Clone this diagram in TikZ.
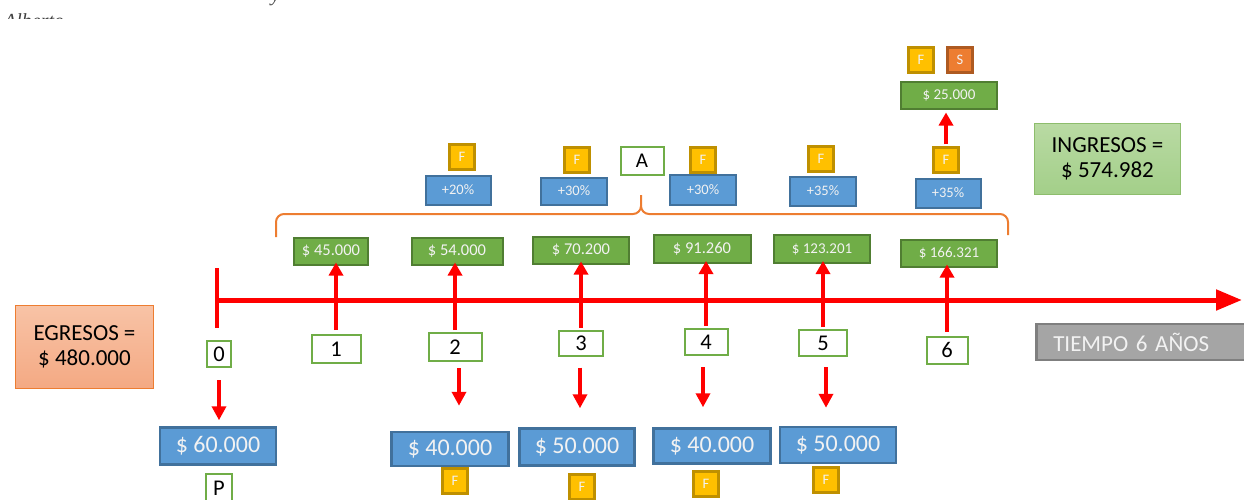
\documentclass[tikz,border=0pt]{standalone}
\usepackage{fontspec}
\setmainfont{Carlito}
\newfontfamily\noteserif{Liberation Serif}
\usetikzlibrary{arrows.meta}

\definecolor{incfill}{HTML}{70AD47}
\definecolor{incline}{HTML}{507E32}
\definecolor{bluefill}{HTML}{5B9BD5}
\definecolor{blueline}{HTML}{41719C}
\definecolor{ffill}{HTML}{FFC000}
\definecolor{fline}{HTML}{BF9000}
\definecolor{sfill}{HTML}{ED7D31}
\definecolor{sline}{HTML}{AE5A21}
\definecolor{tred}{HTML}{FF0000}
\definecolor{ingtop}{HTML}{B9DAA3}
\definecolor{ingbot}{HTML}{A3CF89}
\definecolor{egrtop}{HTML}{F8C3A6}
\definecolor{egrbot}{HTML}{F4A983}
\definecolor{grayfill}{HTML}{A5A5A5}
\definecolor{grayline}{HTML}{7F7F7F}
\definecolor{softwhite}{HTML}{F2F2F2}

\newcommand{\fs}[1]{\fontsize{#1}{#1}\selectfont}

\tikzset{
  x=1pt, y=1pt,
  box/.style={inner sep=0pt, line width=2pt, align=center},
  inc/.style={box, fill=incfill, draw=incline, text=softwhite},
  pct/.style={box, fill=bluefill, draw=blueline, text=softwhite, font=\fs{14.5}},
  cost/.style={box, fill=bluefill, draw=blueline, text=softwhite, font=\fs{24}, line width=2.5pt},
  tag/.style={box, fill=ffill, draw=fline, text=softwhite, minimum width=25pt, minimum height=25pt, font=\fs{14.5}, line width=2.2pt},
  yr/.style={box, fill=white, draw=incfill, font=\fs{22.5}},
  upar/.style={draw=tred, line width=4pt, -{Triangle[width=14pt,length=13pt]}},
  dnar/.style={draw=tred, line width=4pt, -{Triangle[width=14pt,length=14pt]}},
  brace line/.style={draw=sfill, line width=2pt},
}

\begin{document}
\begin{tikzpicture}
\useasboundingbox (0,0) rectangle (1244,-499);
\clip (0,0) rectangle (1244,-499);

% note lines cut at the top of the sheet
\begin{scope}
  \clip (0,0) rectangle (300,-18);
  \node[anchor=base west, inner sep=0pt, font=\noteserif\itshape\fs{20}, text=black!75] (autor) at (4,-27) {Alberto};
  \node[anchor=base west, inner sep=0pt, font=\noteserif\itshape\fs{20}, text=black!75] (nota) at (271,-1) {y};
\end{scope}

% totals
\node[box, line width=1.2pt, draw=incfill!80, top color=ingtop, bottom color=ingbot,
      minimum width=146pt, minimum height=71pt, font=\fs{23}]
  (ing) at (1107.5,-159) {INGRESOS =\\[2pt]\$ 574.982};
\node[box, line width=1.2pt, draw=sfill, top color=egrtop, bottom color=egrbot,
      minimum width=138pt, minimum height=83pt, font=\fs{23}]
  (egr) at (84.5,-347) {EGRESOS =\\[2pt]\$ 480.000};
\node[box, line width=2.5pt, fill=grayfill, draw=grayline, text=softwhite,
      anchor=west, text width=175pt, inner xsep=17pt, minimum height=36pt,
      align=left, font=\fs{23}]
  (tiempo) at (1035,-342) {TIEMPO 6 AÑOS};

% time axis
\coordinate (ax0) at (215,-300);
\coordinate (ax1) at (1242,-300);
\coordinate (tk0) at (217,-268);
\coordinate (tk1) at (217,-328);
\draw[draw=tred, line width=5pt, -{Triangle[width=20pt,length=26pt]}] (ax0) -- (ax1);
\draw[draw=tred, line width=4.5pt] (tk0) -- (tk1);

% periods
\node[yr, minimum width=24pt, minimum height=26pt] (y0) at (219,-354) {0};
\node[yr, minimum width=49pt, minimum height=28pt] (y1) at (336,-349) {1};
\node[yr, minimum width=53pt, minimum height=28pt] (y2) at (455,-347) {2};
\node[yr, minimum width=44pt, minimum height=25pt] (y3) at (581,-343) {3};
\node[yr, minimum width=43pt, minimum height=26pt] (y4) at (706,-342) {4};
\node[yr, minimum width=48pt, minimum height=26pt] (y5) at (823,-343) {5};
\node[yr, minimum width=41pt, minimum height=27pt] (y6) at (947,-350) {6};

% income per period
\node[inc, minimum width=74pt, minimum height=27pt, font=\fs{16.5}] (g1) at (331,-251) {\$ 45.000};
\node[inc, minimum width=91pt, minimum height=27pt, font=\fs{16.5}] (g2) at (457,-251) {\$ 54.000};
\node[inc, minimum width=96pt, minimum height=27pt, font=\fs{16.5}] (g3) at (581,-250) {\$ 70.200};
\node[inc, minimum width=97pt, minimum height=28pt, font=\fs{16.5}] (g4) at (702,-249) {\$ 91.260};
\node[inc, minimum width=96pt, minimum height=28pt, font=\fs{15}] (g5) at (822,-249) {\$ 123.201};
\node[inc, minimum width=96pt, minimum height=27pt, font=\fs{15}] (g6) at (949,-253) {\$ 166.321};
\node[inc, minimum width=96pt, minimum height=27pt, font=\fs{15}] (g7) at (949,-95) {\$ 25.000};

% growth rates
\node[pct, minimum width=65pt, minimum height=29pt] (p1) at (458,-190) {+20\%};
\node[pct, minimum width=66pt, minimum height=27pt] (p2) at (574,-191) {+30\%};
\node[pct, minimum width=66pt, minimum height=30pt] (p3) at (703,-190) {+30\%};
\node[pct, minimum width=66pt, minimum height=29pt] (p4) at (823,-191) {+35\%};
\node[pct, minimum width=65pt, minimum height=29pt] (p5) at (948,-193) {+35\%};

% markers
\node[tag] (f1) at (462,-157) {F};
\node[tag] (f2) at (577,-160) {F};
\node[tag] (f3) at (703,-160) {F};
\node[tag] (f4) at (821,-159) {F};
\node[tag] (f5) at (946,-160) {F};
\node[tag] (f6) at (921,-60) {F};
\node[tag, fill=sfill, draw=sline] (s1) at (960,-60) {S};
\node[yr, minimum width=43pt, minimum height=28pt, font=\fs{21}] (aa) at (642,-161) {A};

% costs
\node[cost, minimum width=116pt, minimum height=37pt] (b0) at (218,-446) {\$ 60.000};
\node[cost, minimum width=117pt, minimum height=34pt] (b2) at (450,-449) {\$ 40.000};
\node[cost, minimum width=115pt, minimum height=37pt] (b3) at (577,-447) {\$ 50.000};
\node[cost, minimum width=117pt, minimum height=35pt] (b4) at (712,-446) {\$ 40.000};
\node[cost, minimum width=116pt, minimum height=36pt] (b5) at (838,-445) {\$ 50.000};
\node[yr, minimum width=26pt, minimum height=28pt] (pp) at (219,-488) {P};
\node[tag] (fb2) at (455,-481) {F};
\node[tag] (fb3) at (582,-487) {F};
\node[tag] (fb4) at (706,-484) {F};
\node[tag] (fb5) at (826,-480) {F};

% brace over the income boxes
\coordinate (brl) at (276,-237);
\coordinate (brc) at (641,-195);
\coordinate (brr) at (1008,-235);
\draw[brace line] (brl) -- (276,-222) arc[start angle=180, end angle=90, radius=8]
  -- (633,-214) arc[start angle=-90, end angle=0, radius=8] -- (brc);
\draw[brace line] (641,-206) arc[start angle=180, end angle=270, radius=8]
  -- (1000,-214) arc[start angle=90, end angle=0, radius=8] -- (brr);

% income arrows
\draw[upar, shorten <=4pt, shorten >=-3pt] (y1.north) -- (y1.north |- g1.south);
\draw[upar, shorten <=2pt, shorten >=-3pt] (y2.north) -- (y2.north |- g2.south);
\draw[upar, shorten <=2pt, shorten >=-3pt] (y3.north) -- (y3.north |- g3.south);
\draw[upar, shorten <=2pt, shorten >=-3pt] (y4.north) -- (y4.north |- g4.south);
\draw[upar, shorten <=2pt, shorten >=-3pt] (y5.north) -- (y5.north |- g5.south);
\draw[upar, shorten <=4pt, shorten >=-3pt] (y6.north) -- (y6.north |- g6.south);
\draw[upar, shorten <=2pt, shorten >=3pt] (f5.north) -- (f5.north |- g7.south);

% cost arrows
\draw[dnar, shorten <=12pt, shorten >=6pt] (y0.south) -- (y0.south |- b0.north);
\draw[dnar, shorten <=6pt, shorten >=25pt] ([xshift=4pt]y2.south) -- ([xshift=4pt]y2.south |- b2.north);
\draw[dnar, shorten <=11pt, shorten >=19pt] ([xshift=-1pt]y3.south) -- ([xshift=-1pt]y3.south |- b3.north);
\draw[dnar, shorten <=11pt, shorten >=20pt] ([xshift=-3pt]y4.south) -- ([xshift=-3pt]y4.south |- b4.north);
\draw[dnar, shorten <=10pt, shorten >=18pt] ([xshift=3pt]y5.south) -- ([xshift=3pt]y5.south |- b5.north);
\end{tikzpicture}
\end{document}
